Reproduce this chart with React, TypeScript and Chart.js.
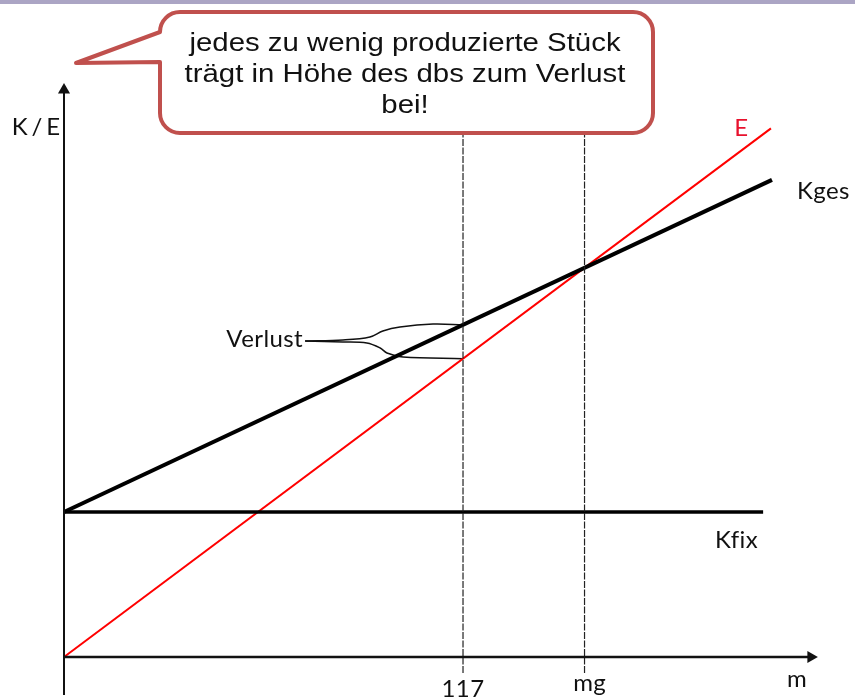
import React, { useEffect, useRef } from "react";
import { Chart, registerables } from "chart.js";

Chart.register(...registerables);

// ---- data (model values) ----
const kFix = 1450; // fixed costs
const kVar = 16; // variable cost per piece
const price = 25.5; // price per piece
const mLoss = 117; // produced quantity (below break-even)
const mBreakEven = kFix / (price - kVar); // mg

const xAxisRange = [0, 219]; // m axis extent
const yAxisRange = [-380, 5670]; // K / E axis extent
const kfixRange = [0, 205];
const kgesRange = [0, 207.6];
const erloesRange = [0, 207.3];
const markerRange = [-160, 5300]; // vertical guides
const markerM = [mLoss, mBreakEven];
const tickLabels = ["117", "mg"];

const braceTopM = [70.7, 81.8, 89.7, 93.5, 98.5, 108.2];
const braceTopKE = [3160, 3170, 3200, 3260, 3300, 3330];
const braceBottomM = [70.7, 81.8, 88.8, 92.7, 94.7, 99.4];
const braceBottomKE = [3160, 3150, 3140, 3090, 3040, 3000];

const bubbleLines = [
  "jedes zu wenig produzierte Stück",
  "trägt in Höhe des dbs zum Verlust",
  "bei!",
];

const kges = (m: number) => kFix + kVar * m;
const erl = (m: number) => price * m;

const FONT = "Lato, 'Open Sans', sans-serif";

type Lbl = { text: string; x: number; y: number; align: CanvasTextAlign; color?: string };
const labels: Lbl[] = [
  { text: "K\u2009/\u2009E", x: -15.3, y: 5220, align: "left" },
  { text: "E", x: 196.5, y: 5210, align: "left", color: "#e8112d" },
  { text: "Kges", x: 214.9, y: 4580, align: "left" },
  { text: "Kfix", x: 190.9, y: 1090, align: "left" },
  { text: "Verlust", x: 70.1, y: 3100, align: "right" },
  { text: tickLabels[0], x: markerM[0], y: -400, align: "center" },
  { text: tickLabels[1], x: markerM[1] + 1.5, y: -340, align: "center" },
  { text: "m", x: 212.0, y: -300, align: "left" },
];

const annotationPlugin = {
  id: "annotations",
  afterDatasetsDraw(chart: any) {
    const { ctx, scales } = chart;
    const xs = scales.x;
    const ys = scales.y;
    ctx.save();
    ctx.font = `24px ${FONT}`;
    ctx.textBaseline = "alphabetic";
    for (const l of labels) {
      ctx.fillStyle = l.color || "#111";
      ctx.textAlign = l.align;
      // a tiny letter spacing keeps "f" and "i" apart (no ligature)
      ctx.letterSpacing = "0.4px";
      ctx.fillText(l.text, xs.getPixelForValue(l.x), ys.getPixelForValue(l.y));
    }
    ctx.restore();
  },
  afterDraw(chart: any) {
    const { ctx } = chart;
    ctx.save();
    // top bar
    ctx.fillStyle = "#aba5c4";
    ctx.fillRect(0, 0, chart.width, 4);
    // speech bubble
    const L = 160, T = 12, R = 653, B = 133, r = 20;
    ctx.beginPath();
    ctx.moveTo(L + r, T);
    ctx.lineTo(R - r, T);
    ctx.arcTo(R, T, R, T + r, r);
    ctx.lineTo(R, B - r);
    ctx.arcTo(R, B, R - r, B, r);
    ctx.lineTo(L + r, B);
    ctx.arcTo(L, B, L, B - r, r);
    ctx.lineTo(L, 62);
    ctx.lineTo(76, 63);
    ctx.lineTo(L, T + r);
    ctx.arcTo(L, T, L + r, T, r);
    ctx.closePath();
    ctx.fillStyle = "#ffffff";
    ctx.fill();
    ctx.lineWidth = 4;
    ctx.lineJoin = "round";
    ctx.strokeStyle = "#c0504d";
    ctx.stroke();
    ctx.fillStyle = "#111";
    ctx.font = "26px 'Liberation Sans', Arial, sans-serif";
    ctx.textAlign = "center";
    ctx.textBaseline = "alphabetic";
    const baselines = [51, 82, 113];
    bubbleLines.forEach((t, i) => {
      ctx.save();
      ctx.translate(405, baselines[i]);
      ctx.scale(1.13, 1);
      ctx.fillText(t, 0, 0);
      ctx.restore();
    });
    ctx.restore();
  },
};

function seg(xr: number[], f: (m: number) => number) {
  return xr.map((m) => ({ x: m, y: f(m) }));
}

export default function App() {
  const ref = useRef<HTMLCanvasElement | null>(null);
  useEffect(() => {
    if (!ref.current) return;
    const lastOnly = (r: number) => (c: any) =>
      c.dataIndex === c.dataset.data.length - 1 ? r : 0;
    const line = (data: any[], color: string, width: number, extra: any = {}) => ({
      data,
      showLine: true,
      borderColor: color,
      backgroundColor: color,
      borderWidth: width,
      pointRadius: 0,
      tension: 0,
      ...extra,
    });
    const chart = new Chart(ref.current, {
      type: "scatter",
      data: {
        datasets: [
          // axes
          line(
            yAxisRange.map((v) => ({ x: 0, y: v })),
            "#111",
            2,
            { pointRadius: lastOnly(7), pointStyle: "triangle", pointRotation: 0, pointBorderWidth: 0 }
          ),
          line(
            xAxisRange.map((v) => ({ x: v, y: 0 })),
            "#111",
            2.5,
            { pointRadius: lastOnly(7), pointStyle: "triangle", pointRotation: 90, pointBorderWidth: 0 }
          ),
          // guides
          ...markerM.map((m) =>
            line(markerRange.map((v) => ({ x: m, y: v })), "#222", 1.2, { borderDash: [7, 1.5] })
          ),
          // cost / revenue lines
          line(seg(kfixRange, () => kFix), "#000", 3.5),
          line(seg(kgesRange, kges), "#000", 4),
          line(seg(erloesRange, erl), "#ff0000", 2),
          // brace to "Verlust"
          line(
            [...braceTopM.map((m, i) => ({ x: m, y: braceTopKE[i] })), { x: mLoss, y: kges(mLoss) }],
            "#111",
            1.5,
            { tension: 0.35 }
          ),
          line(
            [...braceBottomM.map((m, i) => ({ x: m, y: braceBottomKE[i] })), { x: mLoss, y: erl(mLoss) }],
            "#111",
            1.5,
            { tension: 0.35 }
          ),
        ],
      },
      options: {
        responsive: false,
        animation: false,
        events: [],
        layout: { padding: 0, autoPadding: false },
        plugins: { legend: { display: false }, tooltip: { enabled: false }, title: { display: false } },
        scales: {
          x: { type: "linear", display: false, min: -18.767, max: 231.94 },
          y: { type: "linear", display: false, min: -430, max: 6570 },
        },
      },
      plugins: [annotationPlugin],
    } as any);
    return () => chart.destroy();
  }, []);
  return (
    <div style={{ position: "absolute", left: 0, top: 0, width: 855, height: 700, background: "#fff" }}>
      <canvas ref={ref} width={855} height={700} style={{ display: "block" }} />
    </div>
  );
}
